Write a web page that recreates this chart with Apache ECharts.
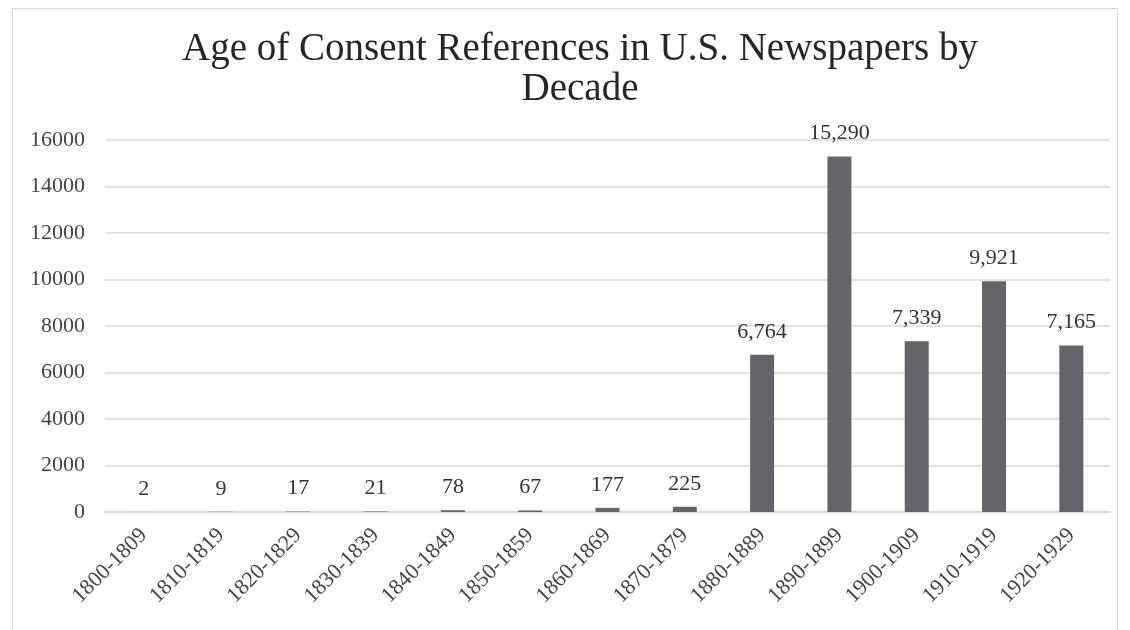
<!DOCTYPE html>
<html>
<head>
<meta charset="utf-8">
<script src="https://cdn.jsdelivr.net/npm/echarts@6/dist/echarts.min.js"></script>
<style>
  html, body { margin: 0; padding: 0; background: #fff; }
  #frame { position: absolute; left: 12px; top: 8px; width: 1106px; height: 640px; border: 1px solid #d9d9d9; box-sizing: border-box; }
</style>
</head>
<body>
<div id="frame"></div>
<div id="main" style="position:absolute;left:0;top:0;width: 1130px;height:630px;"></div>

<script type="text/javascript">
    var decades = ['1800-1809', '1810-1819', '1820-1829', '1830-1839', '1840-1849', '1850-1859',
        '1860-1869', '1870-1879', '1880-1889', '1890-1899', '1900-1909', '1910-1919', '1920-1929'];
    var references = [2, 9, 17, 21, 78, 67, 177, 225, 6764, 15290, 7339, 9921, 7165];
    var yTicks = [0, 2000, 4000, 6000, 8000, 10000, 12000, 14000, 16000];

    var serif = '"Liberation Serif", "DejaVu Serif", serif';
    var myChart = echarts.init(document.getElementById('main'));

    var option = {
        animation: false,
        // 标题
        title: {
            text: 'Age of Consent References in U.S. Newspapers by\nDecade',
            left: 575,
            textAlign: 'center',
            top: 25,
            textStyle: {
                fontFamily: serif,
                fontWeight: 'normal',
                fontSize: 39,
                lineHeight: 40,
                color: '#262626'
            }
        },
        grid: {
            left: 105,
            right: 20,
            top: 140,
            bottom: 118
        },
        xAxis: {
            type: 'category',
            data: decades,
            axisTick: { show: false },
            axisLine: { lineStyle: { color: '#d9d9d9', width: 2 } },
            axisLabel: {
                rotate: 45,
                interval: 0,
                margin: 20,
                fontFamily: serif,
                fontSize: 22,
                color: '#444'
            }
        },
        yAxis: {
            type: 'value',
            min: yTicks[0],
            max: yTicks[yTicks.length - 1],
            interval: 2000,
            axisLine: { show: false },
            axisTick: { show: false },
            splitLine: { lineStyle: { color: '#e3e3e3', width: 2 } },
            axisLabel: {
                margin: 20,
                fontFamily: serif,
                fontSize: 22,
                color: '#444',
                formatter: function (v) { return String(v); }
            }
        },
        series: [{
            name: 'References',
            type: 'bar',
            data: references,
            barWidth: 24,
            itemStyle: { color: '#646568' },
            label: {
                show: true,
                position: 'top',
                distance: 12,
                fontFamily: serif,
                fontSize: 22,
                color: '#333',
                formatter: function (p) {
                    return p.value.toLocaleString('en-US');
                }
            }
        }]
    };

    myChart.setOption(option);
</script>
</body>
</html>
